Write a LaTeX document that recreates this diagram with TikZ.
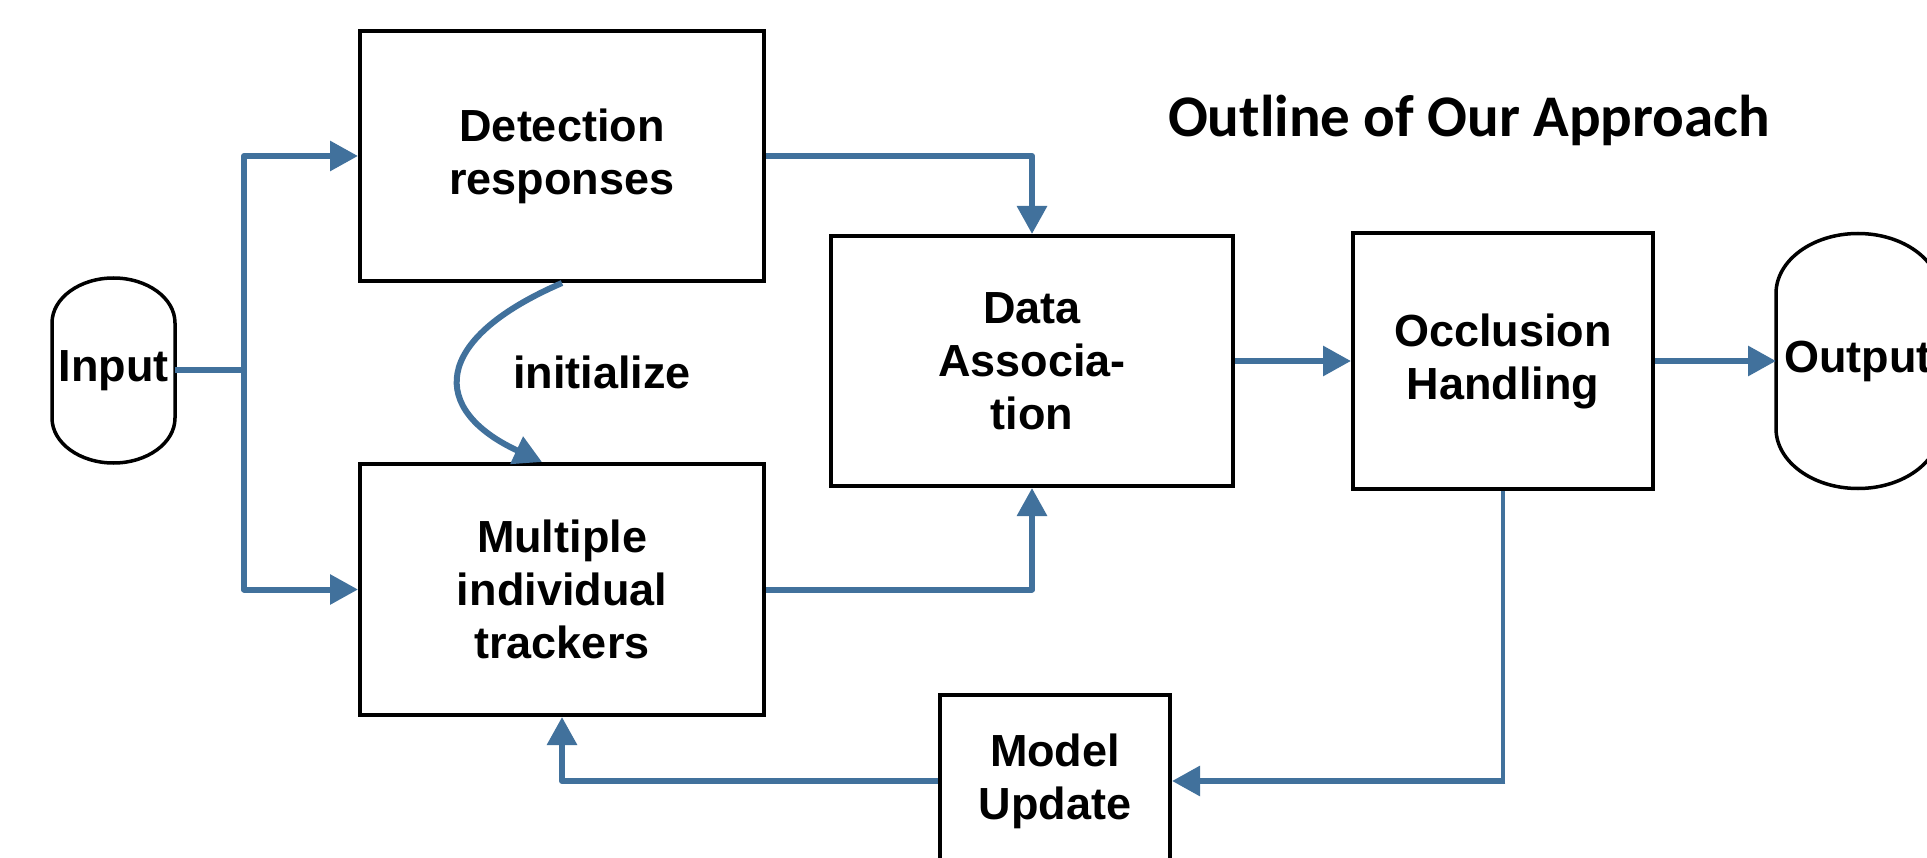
\documentclass[tikz,border=0pt]{standalone}
\usepackage{fontspec}
\setmainfont{Liberation Sans}
\newfontfamily\titlefont{Carlito}
\usetikzlibrary{arrows.meta,calc}
\definecolor{flow}{RGB}{65,113,156}
\begin{document}
\begin{tikzpicture}[x=1pt,y=-1pt,
  box/.style={draw=black, line width=4pt, fill=white, align=center, inner sep=0pt,
    font=\fontsize{45}{53}\selectfont\bfseries},
  capsule/.style={draw=none, align=center, inner sep=0pt, outer sep=0pt,
    font=\fontsize{45}{53}\selectfont\bfseries},
  conn/.style={draw=flow, line width=6pt, line join=round},
  arr/.style={conn, -{Triangle[length=28pt,width=29pt]}},
  lbl/.style={font=\fontsize{45}{53}\selectfont\bfseries, inner sep=0pt}
]
\useasboundingbox (0,0) rectangle (1927,858);
\clip (0,0) rectangle (1927,858);
\fill[white] (0,0) rectangle (1927,858);

% nodes
\node[box, minimum width=404pt, minimum height=250pt] (det) at (562,156) {Detection\\responses};
\node[box, minimum width=404pt, minimum height=251pt] (mul) at (562,589.5) {Multiple\\individual\\trackers};
\node[box, minimum width=402pt, minimum height=250pt] (da) at (1032,361) {Data\\Associa-\\tion};
\node[box, minimum width=300pt, minimum height=256pt] (occ) at (1503,361) {Occlusion\\Handling};
\node[box, minimum width=230pt, minimum height=172pt] (mu) at (1055,781) {Model\\Update};
\node[capsule, minimum width=123pt, minimum height=185pt] (in) at (113.5,370.5) {Input};
\node[capsule, minimum width=164pt, minimum height=255pt] (out) at (1858,361) {Output};
\node[font=\titlefont\fontsize{59}{70}\selectfont\bfseries, anchor=base, inner sep=0pt] (title) at (1469,137) {Outline of Our Approach};

% capsule outlines
\draw[black, line width=3.5pt] ([yshift=-45pt]in.north west)
  arc[start angle=180, end angle=0, x radius=61.5pt, y radius=45pt]
  -- ([yshift=45pt]in.south east)
  arc[start angle=0, end angle=-180, x radius=61.5pt, y radius=45pt] -- cycle;
\draw[black, line width=3.5pt] ([yshift=-60pt]out.north west)
  arc[start angle=180, end angle=0, x radius=82pt, y radius=60pt]
  -- ([yshift=60pt]out.south east)
  arc[start angle=0, end angle=-180, x radius=82pt, y radius=60pt] -- cycle;

% connectors
\coordinate (j) at (244,370.5);
\coordinate (k) at (occ.south |- mu.east);
\draw[conn] (in.east) -- (j);
\draw[arr] (j) |- (det.west);
\draw[arr] (j) |- (mul.west);
\draw[arr] (det.east) -| (da.north);
\draw[arr] (mul.east) -| (da.south);
\draw[arr] (da.east) -- (occ.west);
\draw[arr] (occ.east) -- (out.west);
\draw[conn, line width=4.5pt] (occ.south) -- ([yshift=-2pt]k);
\draw[arr] ([xshift=2.25pt]k) -- (mu.east);
\draw[arr] (mu.west) -| (mul.south);
\draw[arr] (det.south)
  .. controls (430,340) and (430,410) .. ($(mul.north)+(-20,0)$);
\node[lbl] (init) at (602,372) {initialize};
\end{tikzpicture}
\end{document}
